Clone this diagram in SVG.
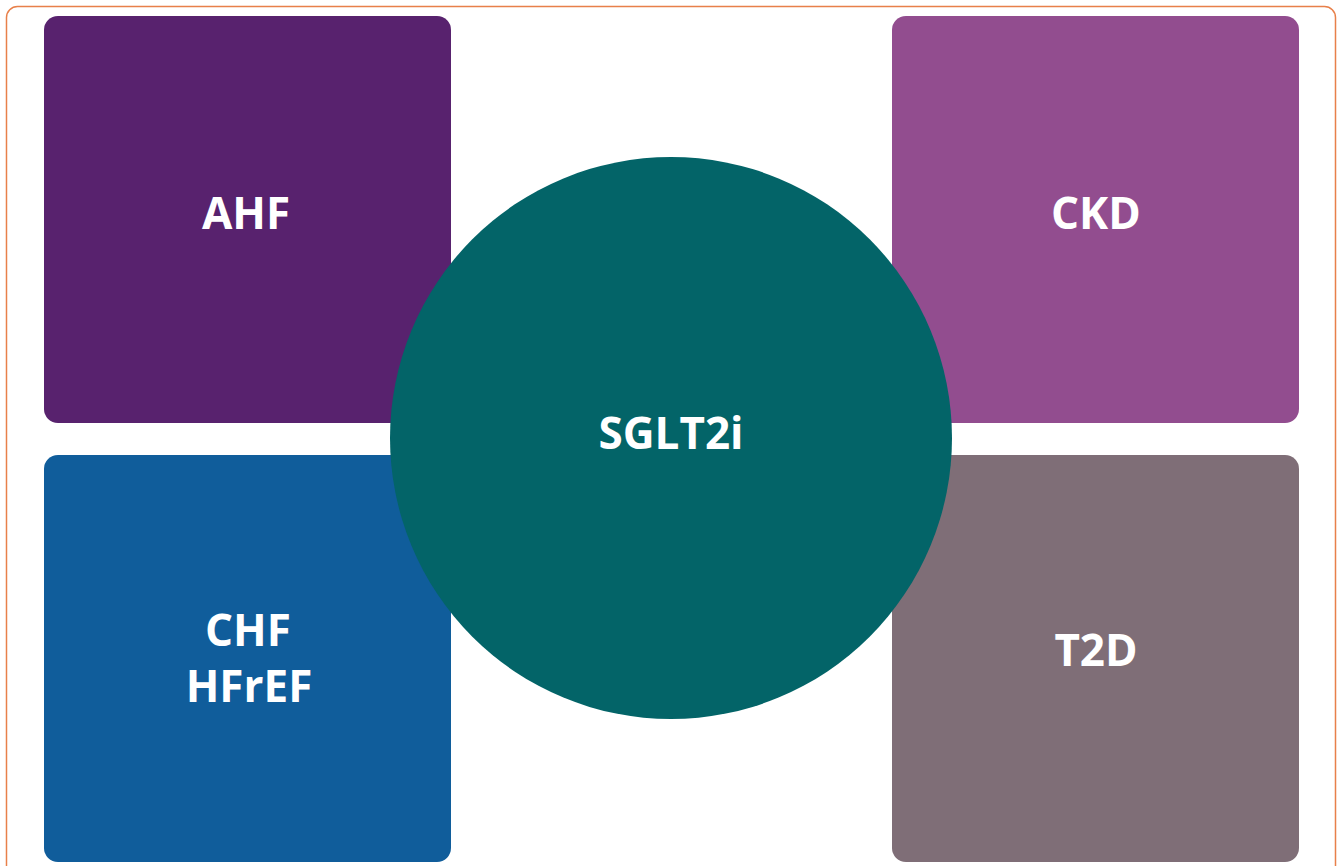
<svg xmlns="http://www.w3.org/2000/svg" width="1339" height="866" viewBox="0 0 1339 866">
<style>
.lbl{font-family:"Open Sans","Liberation Sans",sans-serif;font-weight:700;font-size:44px;fill:#ffffff;text-anchor:middle}
</style>
<rect x="0" y="0" width="1339" height="866" fill="#ffffff"/>
<rect id="frame" x="6.5" y="6.5" width="1329" height="880" rx="11" fill="none" stroke="#E8804A" stroke-width="1.5"/>
<g id="connectors"></g>
<g id="ahf"><rect x="44" y="16" width="407" height="407" rx="14" fill="#58226E"/><text class="lbl" x="246" y="229">AHF</text></g>
<g id="ckd"><rect x="892" y="16" width="407" height="407" rx="14" fill="#924D8F"/><text class="lbl" x="1096" y="229">CKD</text></g>
<g id="chf"><rect x="44" y="455" width="407" height="407" rx="14" fill="#105D9B"/><text class="lbl" x="248" y="646">CHF</text><text class="lbl" x="249" y="702">HFrEF</text></g>
<g id="t2d"><rect x="892" y="455" width="407" height="407" rx="14" fill="#7F6E77"/><text class="lbl" x="1096" y="666">T2D</text></g>
<g id="sglt2i"><circle cx="671" cy="438" r="281" fill="#036468"/><text class="lbl" x="671" y="449">SGLT2i</text></g>
</svg>
